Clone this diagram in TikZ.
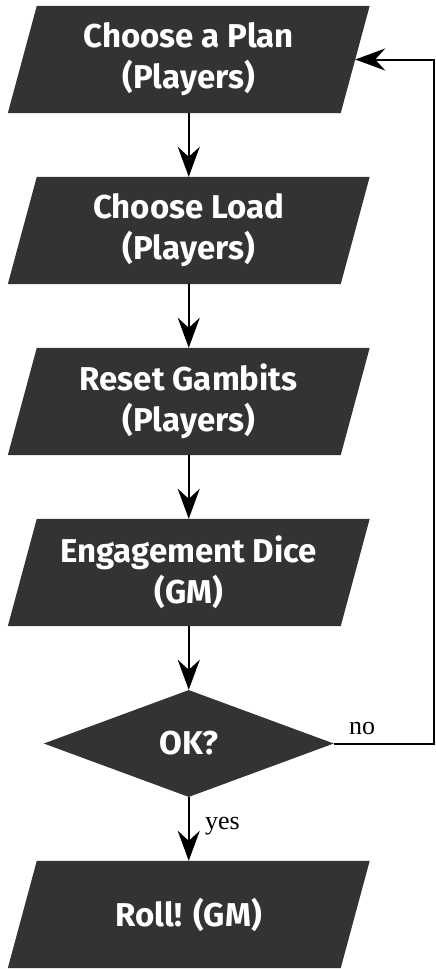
\documentclass[tikz,border=0pt]{standalone}
\usepackage{fontspec}
\setmainfont{Liberation Serif}
\newfontfamily\boxfont{Fira Sans}
\usetikzlibrary{shapes.geometric,arrows.meta,backgrounds}
\definecolor{boxgray}{RGB}{51,51,51}
\begin{document}
\begin{tikzpicture}[x=1pt,y=-1pt,
  stepbox/.style={rectangle, minimum width=332.5pt, minimum height=107pt, inner sep=0pt,
    text=white, font=\boxfont\bfseries\fontsize{33}{41}\selectfont, align=center},
  decision/.style={diamond, minimum width=290pt, minimum height=107pt, inner sep=0pt,
    fill=boxgray, text=white, font=\boxfont\bfseries\fontsize{33}{41}\selectfont},
  conn/.style={line width=2pt, -{Stealth[length=30pt,width=22pt,inset=10pt]}},
  lbl/.style={font=\fontsize{26}{30}\selectfont, inner sep=0pt}
]
\useasboundingbox (0,0) rectangle (436,969);
\node[stepbox] (plan)   at (188.75,59.5)  {Choose a Plan\\(Players)};
\node[stepbox] (load)   at (188.75,230.5) {Choose Load\\(Players)};
\node[stepbox] (reset)  at (188.75,401.5) {Reset Gambits\\(Players)};
\node[stepbox] (engage) at (188.75,572.5) {Engagement Dice\\(GM)};
\node[decision] (ok)    at (188.75,743.5) {OK?};
\node[stepbox] (roll)   at (188.75,914.5) {Roll! (GM)};
\begin{scope}[on background layer]
  \foreach \n in {plan,load,reset,engage,roll}
    \fill[boxgray] ([xshift=14.5pt]\n.north west) -- ([xshift=14.5pt]\n.north east)
      -- ([xshift=-14.5pt]\n.south east) -- ([xshift=-14.5pt]\n.south west) -- cycle;
\end{scope}
\draw[conn] (plan.south) -- (load.north);
\draw[conn] (load.south) -- (reset.north);
\draw[conn] (reset.south) -- (engage.north);
\draw[conn] (engage.south) -- (ok.north);
\draw[conn] (ok.south) -- (roll.north);
\coordinate (rc) at (434,743.5);
\coordinate (rt) at (434,59.5);
\draw[conn] (ok.east) -- (rc) -- (rt) -- (plan.east);
\node[lbl, anchor=base west] (no) at (349,734) {no};
\node[lbl, anchor=base west] (yes) at (205,829) {yes};
\end{tikzpicture}
\end{document}
